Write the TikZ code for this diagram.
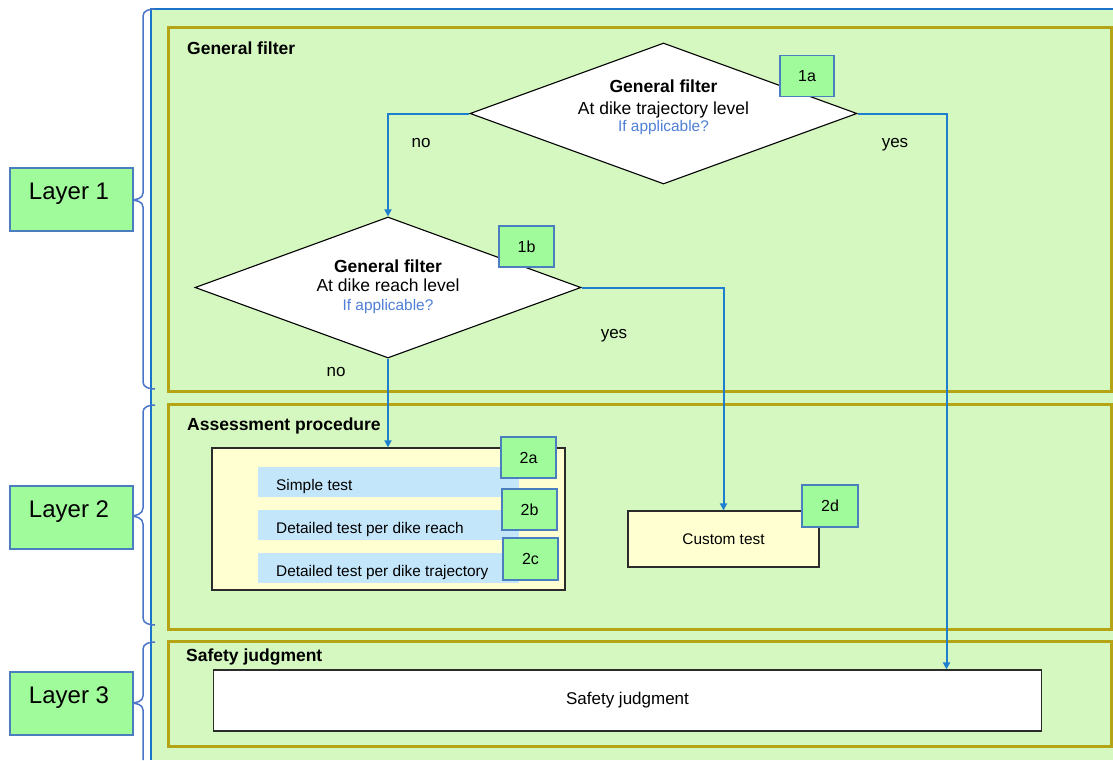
\documentclass[tikz,border=0pt]{standalone}
\usepackage{fontspec}
\setmainfont{Liberation Sans}
\usetikzlibrary{shapes.geometric,arrows.meta}

\definecolor{bggreen}{HTML}{D5F8C0}
\definecolor{olivebd}{HTML}{B5A415}
\definecolor{badgegreen}{HTML}{A0FB9A}
\definecolor{badgeblue}{HTML}{4A7EBF}
\definecolor{flowblue}{HTML}{1E7FCF}
\definecolor{frameblue}{HTML}{1C74C8}
\definecolor{bracecol}{HTML}{4A74C9}
\definecolor{paleyellow}{HTML}{FFFFD2}
\definecolor{stripblue}{HTML}{C4E6FA}
\definecolor{hintblue}{HTML}{4F7FD6}
\definecolor{boxline}{HTML}{2B2B2B}

\tikzset{
  panel/.style={draw=olivebd, line width=2.6pt, fill=bggreen, anchor=north west, inner sep=0pt},
  paneltitle/.style={anchor=base west, inner sep=0pt, font=\fontsize{17.5}{21}\selectfont\bfseries},
  layerbox/.style={draw=badgeblue, line width=1.6pt, fill=badgegreen, minimum width=123pt,
    minimum height=63pt, inner sep=0pt, text height=9.5pt, text depth=9pt,
    font=\fontsize{24}{28}\selectfont},
  badge/.style={draw=badgeblue, line width=1.6pt, fill=badgegreen, minimum width=55pt,
    minimum height=41pt, inner sep=0pt, font=\fontsize{16}{19}\selectfont},
  decision/.style={diamond, draw=black, line width=1.1pt, fill=white, inner sep=0pt,
    minimum width=387pt, minimum height=141pt},
  dline/.style={anchor=base, inner sep=0pt, font=\fontsize{17.5}{21}\selectfont},
  dhead/.style={dline, font=\fontsize{17.5}{21}\selectfont\bfseries},
  dhint/.style={anchor=base, inner sep=0pt, text=hintblue, font=\fontsize{15.4}{18}\selectfont},
  plainbox/.style={draw=boxline, line width=1.2pt, inner sep=0pt},
  strip/.style={fill=stripblue, anchor=north west, minimum width=261pt, minimum height=30pt, inner sep=0pt},
  striptext/.style={anchor=base west, inner sep=0pt, font=\fontsize{15.4}{18}\selectfont},
  answer/.style={anchor=base, inner sep=0pt, font=\fontsize{17}{20}\selectfont},
  flow/.style={draw=flowblue, line width=2pt, -{Triangle[width=7pt,length=7pt]}},
  brace/.style={draw=bracecol, line width=1.5pt}
}

\begin{document}
\begin{tikzpicture}[x=1pt,y=-1pt]
\useasboundingbox (0,0) rectangle (1113,760);

% outer frame
\fill[bggreen] (151,9) rectangle (1113,760);
\draw[frameblue, line width=2pt] (1113,9) -- (151,9) -- (151,760);

% layer braces
\draw[brace] (155,9) to[out=180,in=90] (143,16) -- (143,193) to[out=-90,in=0] (130,200)
             (130,200) to[out=0,in=90] (143,207) -- (143,382) to[out=-90,in=180] (155,389);
\draw[brace] (155,405) to[out=180,in=90] (143,412) -- (143,508) to[out=-90,in=0] (130,516)
             (130,516) to[out=0,in=90] (143,524) -- (143,618) to[out=-90,in=180] (155,625);
\draw[brace] (155,642) to[out=180,in=90] (143,649) -- (143,696) to[out=-90,in=0] (130,703)
             (130,703) to[out=0,in=90] (143,710) -- (143,760);

% layer labels
\node[layerbox] (L1) at (71.5,199.5) {\hspace*{-5pt}Layer 1};
\node[layerbox] (L2) at (71.5,517.5) {\hspace*{-5pt}Layer 2};
\node[layerbox] (L3) at (71.5,703.5) {\hspace*{-5pt}Layer 3};

% panels
\node[panel, minimum width=943pt, minimum height=364pt] (P1) at (167,26) {};
\node[panel, minimum width=943pt, minimum height=225pt] (P2) at (167,403) {};
\node[panel, minimum width=943pt, minimum height=105pt] (P3) at (167,640) {};
\node[paneltitle] (T1) at (187,55) {General filter};
\node[paneltitle] (T2) at (187,430.5) {Assessment procedure};
\node[paneltitle] (T3) at (186,661) {Safety judgment};

% decision 1
\node[decision] (d1) at (663.5,113.5) {};
\node[dhead] (d1a) at (663.5,92.7) {General filter};
\node[dline] (d1b) at (663.5,114) {At dike trajectory level};
\node[dhint] (d1c) at (663.5,131.7) {If applicable?};
\node[badge, minimum width=54pt] (b1a) at (807,76) {1a};

% decision 2
\node[decision, minimum width=386pt] (d2) at (388,287.5) {};
\node[dhead] (d2a) at (388,272) {General filter};
\node[dline] (d2b) at (388,291.7) {At dike reach level};
\node[dhint] (d2c) at (388,310) {If applicable?};
\node[badge] (b1b) at (526.5,246.5) {1b};

% assessment procedure
\node[plainbox, fill=paleyellow, minimum width=353pt, minimum height=142pt] (ab) at (388.5,519) {};
\node[strip] (s1) at (258,467) {};
\node[strip] (s2) at (258,510) {};
\node[strip] (s3) at (258,552.5) {};
\node[striptext] (s1t) at (276,490) {Simple test};
\node[striptext] (s2t) at (276,533) {Detailed test per dike reach};
\node[striptext] (s3t) at (276,576) {Detailed test per dike trajectory};
\node[badge] (b2a) at (528.5,457.5) {2a};
\node[badge] (b2b) at (529.5,509.5) {2b};
\node[badge, minimum height=42pt] (b2c) at (530.5,559) {2c};

% custom test
\node[plainbox, fill=paleyellow, minimum width=191pt, minimum height=56pt,
      font=\fontsize{15.4}{18}\selectfont] (ct) at (723.5,539) {Custom test};
\node[badge, minimum width=56pt, minimum height=42pt] (b2d) at (830,505.7) {2d};

% safety judgment
\node[plainbox, fill=white, minimum width=828pt, minimum height=61pt,
      font=\fontsize{17}{20}\selectfont] (sj) at (627.5,700.5) {Safety judgment};

% connectors
\coordinate (yesA) at (946.5,113.5);
\draw[flow] (d1.west) -| (d2.north);
\draw[flow] (d1.east) -- (yesA) -- (yesA |- sj.north);
\draw[flow] (d2.east) -| (ct.north);
\draw[flow] (d2.south) -- (d2.south |- ab.north);

% answers
\node[answer] (no1) at (421,147) {no};
\node[answer] (yes1) at (895,147) {yes};
\node[answer] (yes2) at (614,338) {yes};
\node[answer] (no2) at (336,376) {no};
\end{tikzpicture}
\end{document}
